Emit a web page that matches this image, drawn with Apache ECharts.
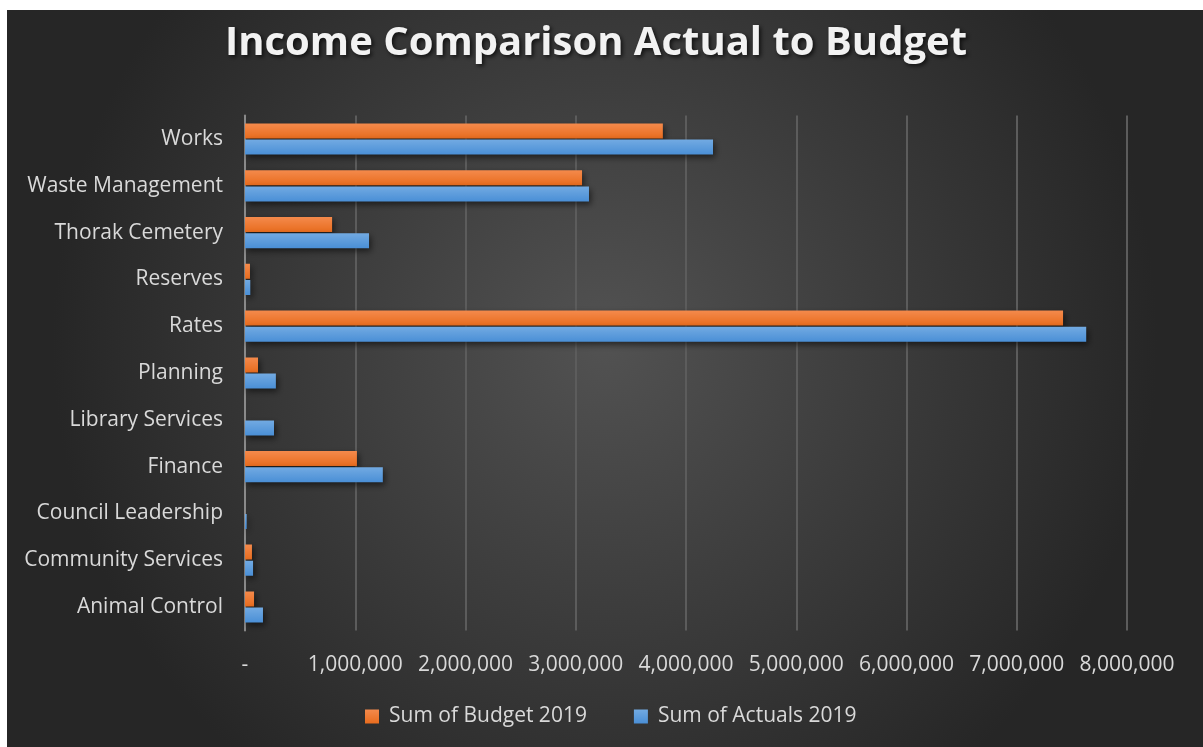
<!DOCTYPE html>
<html><head><meta charset="utf-8">
<script src="https://cdn.jsdelivr.net/npm/echarts@6/dist/echarts.min.js"></script>
<style>
html,body{margin:0;padding:0;background:#fff;width:1203px;height:747px;overflow:hidden;}
#c{position:absolute;left:7px;top:10px;width:1196px;height:737px;}
</style></head><body>
<div id="c"></div>
<script>
const categories = ['Animal Control','Community Services','Council Leadership','Finance','Library Services','Planning','Rates','Reserves','Thorak Cemetery','Waste Management','Works'];
const budget2019 = [82000, 63000, 0, 1015000, 0, 118000, 7420000, 45000, 790000, 3057000, 3790000];
const actuals2019 = [163000, 73000, 15000, 1250000, 263000, 280000, 7630000, 48000, 1125000, 3120000, 4245000];
const xTicks = {min: 0, max: 8000000, interval: 1000000};

const chart = echarts.init(document.getElementById('c'));
const font = '"Open Sans", Lato, sans-serif';
function grad(top, bottom){
  return {type:'linear',x:0,y:0,x2:0,y2:1,colorStops:[{offset:0,color:top},{offset:1,color:bottom}]};
}
chart.setOption({
  backgroundColor: {type:'radial', x:0.5, y:0.45, r:0.75, colorStops:[{offset:0,color:'#525252'},{offset:1,color:'#262626'}]},
  title: {
    text: 'Income Comparison Actual to Budget',
    left: 213, top: 9,
    textStyle: {color:'#f2f2f2', fontSize: 40, fontWeight:'bold', fontFamily: font,
      textShadowColor:'rgba(0,0,0,0.7)', textShadowBlur:4, textShadowOffsetX:2, textShadowOffsetY:2}
  },
  legend: {
    bottom: 15, left: 353, itemWidth: 14, itemHeight: 14, itemGap: 47,
    icon: 'rect',
    textStyle: {color:'#d9d9d9', fontSize: 21, fontFamily: font, padding:[0,0,0,5]},
    data: ['Sum of Budget 2019','Sum of Actuals 2019']
  },
  grid: {left: 238, right: 76, top: 105.6, bottom: 116.6, containLabel: false},
  xAxis: {
    type: 'value', min: xTicks.min, max: xTicks.max, interval: xTicks.interval,
    axisLine: {show:false}, axisTick: {show:false},
    splitLine: {show:true, lineStyle:{color:'#5c5c5c', width:2}},
    axisLabel: {color:'#d9d9d9', fontSize: 21, fontFamily: font, margin: 24,
      formatter: v => v === 0 ? '-' : v.toLocaleString('en-US')}
  },
  yAxis: {
    type: 'category', data: categories,
    axisLine: {show:true, lineStyle:{color:'#8a8a8a', width:2}},
    axisTick: {show:false},
    axisLabel: {color:'#d9d9d9', fontSize: 21, fontFamily: font, margin: 22, padding:[4,0,0,0]}
  },
  series: [
    {name:'Sum of Budget 2019', type:'bar', data: budget2019, barWidth: 15, barGap:'8%',
     itemStyle:{color: grad('#f48a4c','#e86c1e'), shadowColor:'rgba(0,0,0,0.55)', shadowBlur:6, shadowOffsetX:2, shadowOffsetY:3}},
    {name:'Sum of Actuals 2019', type:'bar', data: actuals2019, barWidth: 15, barGap:'8%',
     itemStyle:{color: grad('#72aae2','#4a8fd6'), shadowColor:'rgba(0,0,0,0.55)', shadowBlur:6, shadowOffsetX:2, shadowOffsetY:3}}
  ]
});
</script>
</body></html>
